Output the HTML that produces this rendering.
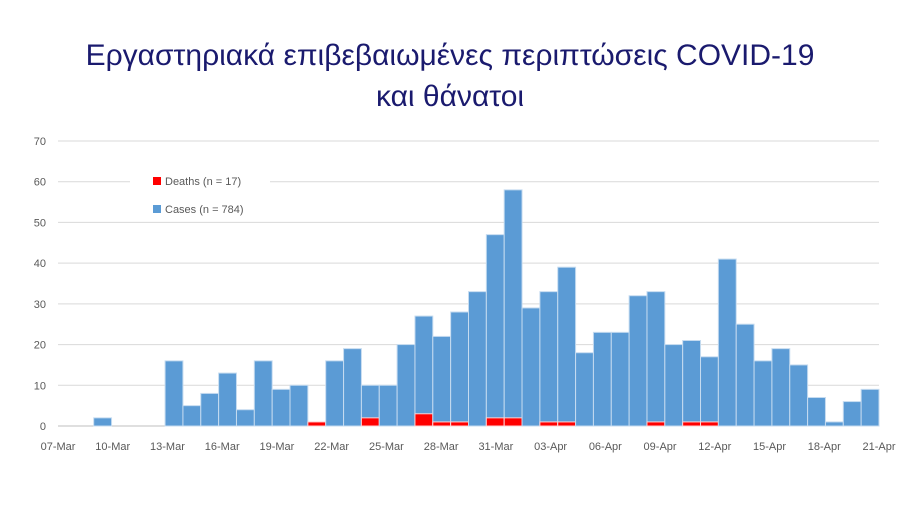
<!DOCTYPE html>
<html><head><meta charset="utf-8"><style>
body{margin:0;background:#fff;width:900px;height:505px;overflow:hidden;font-family:"Liberation Sans",sans-serif}
.title{position:absolute;left:0;top:35px;width:900px;text-align:center;color:#1a1a6e;font-size:30px;line-height:41px}
</style></head><body>
<div class="title">Εργαστηριακά επιβεβαιωμένες περιπτώσεις COVID-19<br>και θάνατοι</div>
<svg id="c" width="900" height="505" style="position:absolute;left:0;top:0"></svg>
<script>
const cases=[0,0,2,0,0,0,16,5,8,13,4,16,9,10,0,16,19,10,10,20,27,22,28,33,47,58,29,33,39,18,23,23,32,33,20,21,17,41,25,16,19,15,7,1,6,9];
const deaths=[0,0,0,0,0,0,0,0,0,0,0,0,0,0,1,0,0,2,0,0,3,1,1,0,2,2,0,1,1,0,0,0,0,1,0,1,1,0,0,0,0,0,0,0,0,0];
const tickLabels=["07-Mar","10-Mar","13-Mar","16-Mar","19-Mar","22-Mar","25-Mar","28-Mar","31-Mar","03-Apr","06-Apr","09-Apr","12-Apr","15-Apr","18-Apr","21-Apr"];
const yTicks=[0,10,20,30,40,50,60,70];
const NS="http://www.w3.org/2000/svg",svg=document.getElementById('c');
const x0=58,x1=879,y0=426,y70=141;
const bw=(x1-x0)/cases.length;
const y=v=>y0-(y0-y70)*v/70;
const bx=i=>x0+i*bw;
const tx=i=>x0+i*(x1-x0)/(tickLabels.length-1);
function el(t,a,p){const e=document.createElementNS(NS,t);for(const k in a)e.setAttribute(k,a[k]);(p||svg).appendChild(e);return e;}
yTicks.forEach(v=>{
 const g=el('line',{x1:x0,x2:x1,y1:y(v),y2:y(v),stroke:v?'#d9d9d9':'#bfbfbf','stroke-width':1});
 
 
 const t=el('text',{x:46,y:y(v)+4,'text-anchor':'end','font-size':11,fill:'#595959'});
 t.textContent=v;
 
 
});
const lb=el('rect',{x:130,y:168,width:140,height:52,fill:'#fff'});


cases.forEach((v,i)=>{
 if(v>0){const r=el('rect',{x:bx(i),y:y(v),width:bw,height:y0-y(v),fill:'#5b9bd5',stroke:'#c5dbf0','stroke-width':1});
 
 }
 if(deaths[i]>0){const d=el('rect',{x:bx(i),y:y(deaths[i]),width:bw,height:y0-y(deaths[i]),fill:'#ff0000',stroke:'#ffd0d0','stroke-width':1});
 
 }
});
tickLabels.forEach((s,i)=>{
 const t=el('text',{x:tx(i),y:450,'text-anchor':'middle','font-size':11,fill:'#595959'});
 t.textContent=s;
 
 
});
[['#ff0000','Deaths (n = 17)',181],['#5b9bd5','Cases (n = 784)',209]].forEach(([c,s,yy])=>{
 const g=el('g',{});
 
 
 el('rect',{x:153,y:yy-4,width:8,height:8,fill:c},g);
 const t=el('text',{x:165,y:yy+4,'font-size':11,fill:'#595959'},g);t.textContent=s;
});
</script>
</body></html>
